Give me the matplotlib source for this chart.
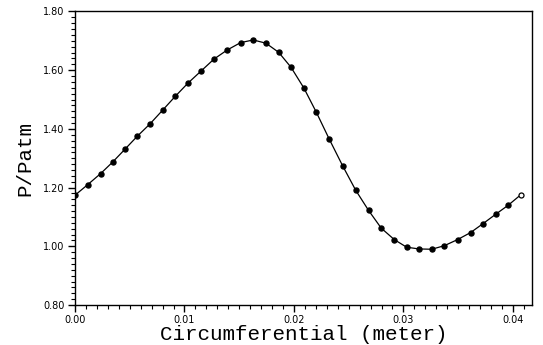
import matplotlib
matplotlib.use("Agg")
import matplotlib.pyplot as plt
import numpy as np
from matplotlib.ticker import MultipleLocator, FormatStrFormatter

# circumferential position [m] and pressure ratio
circ_m = [0.0, 0.00116, 0.00235, 0.00344, 0.00457, 0.00569, 0.00685, 0.00801,
          0.00916, 0.01032, 0.01151, 0.01270, 0.01391, 0.01513, 0.01628, 0.01744,
          0.01860, 0.01973, 0.02091, 0.02204, 0.02320, 0.02445, 0.02564, 0.02682,
          0.02797, 0.02916, 0.03029, 0.03142, 0.03258, 0.03373, 0.03495, 0.03614,
          0.03726, 0.03842, 0.03957, 0.04073]
p_ratio = [1.174, 1.210, 1.248, 1.287, 1.331, 1.375, 1.417, 1.464,
           1.511, 1.556, 1.597, 1.638, 1.669, 1.694, 1.703, 1.692,
           1.661, 1.610, 1.539, 1.457, 1.367, 1.274, 1.191, 1.122,
           1.062, 1.023, 0.997, 0.991, 0.990, 1.002, 1.023, 1.047,
           1.077, 1.109, 1.140, 1.176]

x = np.array(circ_m)
y = np.array(p_ratio)

fig = plt.figure(figsize=(5.43, 3.45), dpi=100)
ax = fig.add_axes([0.1381, 0.1159, 0.8416, 0.8508])

ax.plot(x, y, "-", color="black", lw=0.9)
ax.plot(x[:-1], y[:-1], "o", ms=3.6, mfc="black", mec="black")
ax.plot(x[-1:], y[-1:], "o", ms=3.6, mfc="white", mec="black", mew=0.9)

ax.set_xlim(0.0, 0.04174)
ax.set_ylim(0.80, 1.80)
ax.xaxis.set_major_locator(MultipleLocator(0.01))
ax.xaxis.set_minor_locator(MultipleLocator(0.001))
ax.yaxis.set_major_locator(MultipleLocator(0.2))
ax.yaxis.set_minor_locator(MultipleLocator(0.02))
ax.xaxis.set_major_formatter(FormatStrFormatter("%.2f"))
ax.yaxis.set_major_formatter(FormatStrFormatter("%.2f"))
ax.tick_params(which="major", direction="out", length=5, width=1.0,
               labelsize=7, pad=2.5, top=False, right=False)
ax.tick_params(which="minor", direction="out", length=3, width=0.8,
               top=False, right=False)
for s in ax.spines.values():
    s.set_linewidth(1.0)

lab = dict(family="Liberation Mono", fontsize=15)
ax.set_xlabel("Circumferential (meter)", labelpad=0, **lab)
ax.set_ylabel("P/Patm", labelpad=6, **lab)

fig.savefig("out.png", dpi=100)
